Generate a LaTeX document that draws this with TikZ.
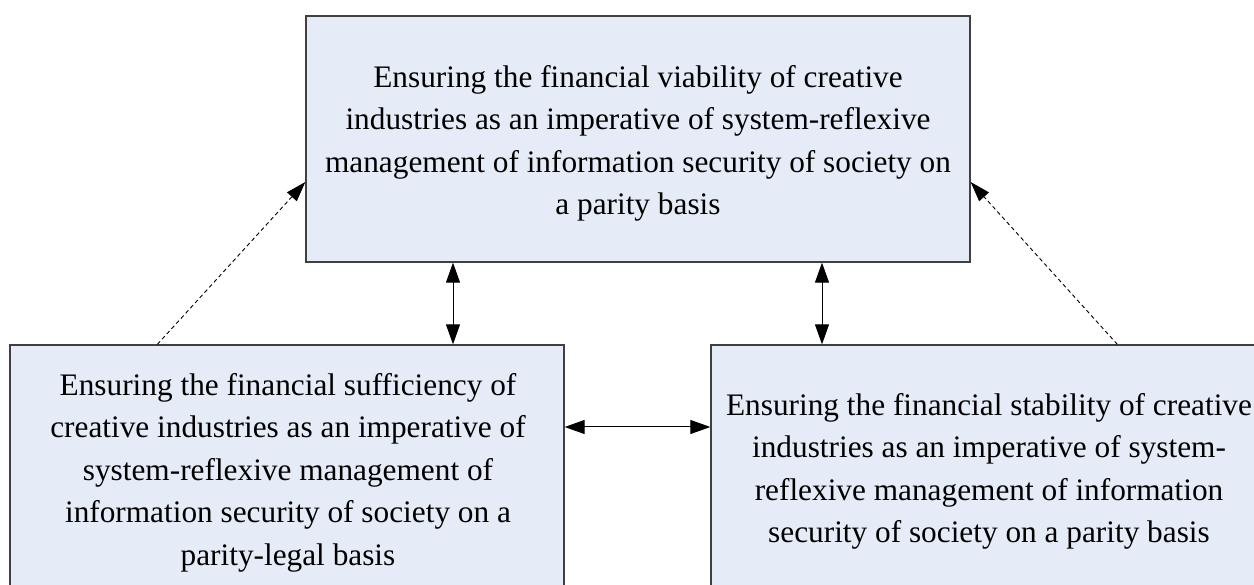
\documentclass[tikz,border=0pt]{standalone}
\usepackage{fontspec}
\setmainfont{Liberation Serif}
\usetikzlibrary{arrows.meta,calc}
\definecolor{boxfill}{RGB}{230,236,247}
\definecolor{boxline}{RGB}{64,64,64}
\tikzset{
  box/.style={draw=boxline, line width=1.3pt, fill=boxfill, rectangle, inner sep=0pt},
  txt/.style={align=center, inner sep=0pt, anchor=north, font=\fontsize{31.3}{42.5}\selectfont},
  dbl/.style={line width=1pt, {Triangle[length=20pt,width=14pt]}-{Triangle[length=20pt,width=14pt]}},
  dsh/.style={line width=0.9pt, dash pattern=on 4pt off 3pt, -{Triangle[length=20pt,width=13pt]}}
}
\begin{document}
\begin{tikzpicture}[x=1pt,y=-1pt]
\useasboundingbox (0,0) rectangle (1254,585);
\clip (0,0) rectangle (1254,585);
\node[box, minimum width=664pt, minimum height=246pt] (top) at (638,139) {};
\node[box, minimum width=554pt, minimum height=275pt] (lb) at (287,482.5) {};
\node[box, minimum width=558pt, minimum height=275pt] (rb) at (990,482.5) {};
\node[txt] (topT) at (638,57.25) {\strut Ensuring the financial viability of creative\\industries as an imperative of system-reflexive\\management of information security of society on\\a parity basis};
\node[txt] (lbT) at (288,365.25) {\strut Ensuring the financial sufficiency of\\creative industries as an imperative of\\system-reflexive management of\\information security of society on a\\parity-legal basis};
\node[txt] (rbT) at (989,385.25) {\strut Ensuring the financial stability of creative\\industries as an imperative of system-\\reflexive management of information\\security of society on a parity basis};
\coordinate (lbS) at ($(lb.north west)+(148,0)$);
\coordinate (topL) at ($(top.west)+(0,43)$);
\coordinate (rbS) at ($(rb.north west)+(407,0)$);
\coordinate (topR) at ($(top.east)+(0,43)$);
\draw[dsh] (lbS) -- (topL);
\draw[dsh] (rbS) -- (topR);
\draw[dbl] (top.south -| 453,0) -- (lb.north -| 453,0);
\draw[dbl] (top.south -| 822,0) -- (rb.north -| 822,0);
\draw[dbl] (lb.east |- 0,427) -- (rb.west |- 0,427);
\end{tikzpicture}
\end{document}
